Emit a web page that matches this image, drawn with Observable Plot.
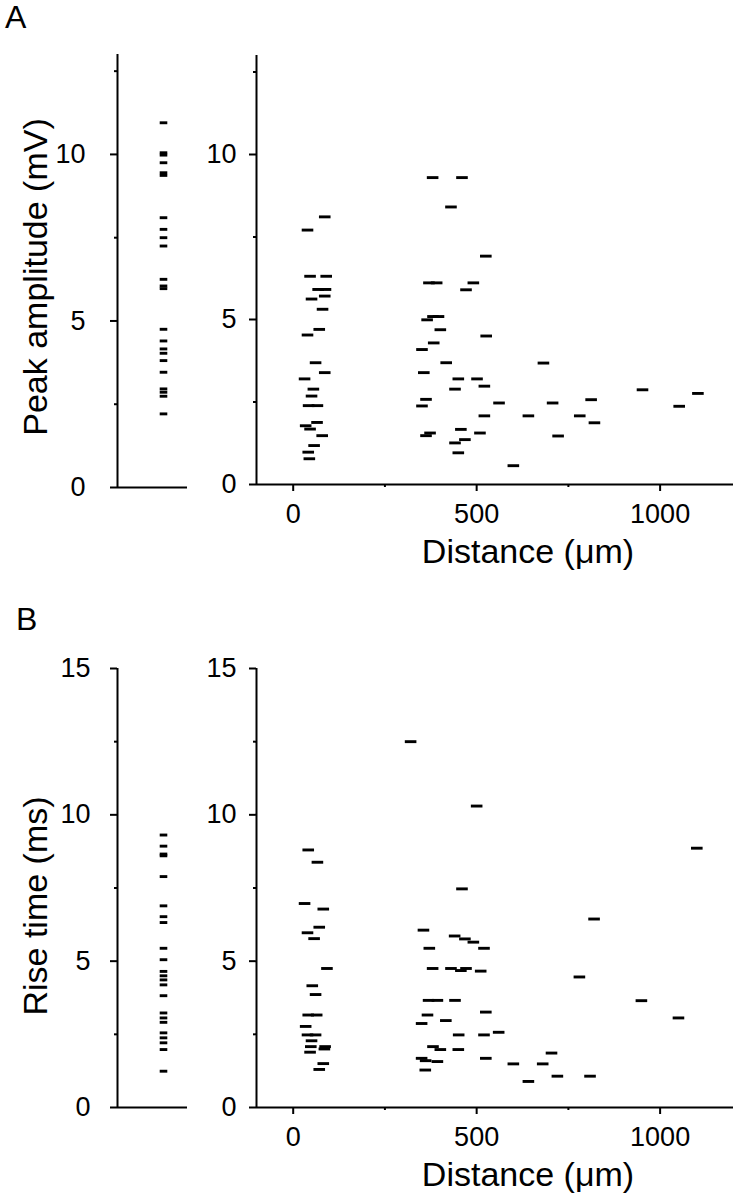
<!DOCTYPE html>
<html><head><meta charset="utf-8">
<script src="https://cdn.jsdelivr.net/npm/d3@7"></script>
<script src="https://cdn.jsdelivr.net/npm/@observablehq/plot@0.6"></script>
<style>
body{margin:0;background:#fff;}
#root{position:relative;width:737px;height:1199px;font-family:"Liberation Sans",Arial,sans-serif;color:#000;}
.plab{position:absolute;font-size:32px;line-height:1;}
.slot{position:absolute;}
.slot svg{display:block;overflow:visible;}
</style></head><body><div id="root"></div>
<script>
// ---- Data ----
const panelLabels = ["A", "B"];
const yLabels = ["Peak amplitude (mV)", "Rise time (ms)"];
const xLabel = "Distance (\u03bcm)";

// Panel A, left strip (all amplitudes, mV)
const ampStrip = [10.95, 10.05, 9.98, 9.75, 9.45, 9.37, 8.1, 7.75, 7.5, 7.25, 6.25, 6.05, 5.97,
  4.75, 4.4, 4.16, 4.03, 3.81, 3.46, 2.96, 2.86, 2.74, 2.21];
// Panel A, scatter: distance (um) and amplitude (mV)
const ampDist = [380, 460, 430, 86, 39, 525, 46, 90, 370, 391, 491, 471, 68, 88, 86, 50, 80,
  381, 396, 365, 39, 401, 71, 526, 383, 351, 61, 417, 86, 356, 31, 450, 501, 55, 441, 521, 50, 362,
  42, 66, 351, 561, 521, 509, 641, 682, 707, 722, 600, 781, 812, 821, 952, 1052, 1103,
  34, 65, 46, 79, 57, 41, 44, 373, 362, 457, 468, 441, 450];
const ampVal = [9.30, 9.30, 8.41, 8.11, 7.71, 6.92, 6.31, 6.31, 6.11, 6.11, 6.11, 5.90, 5.91, 5.91, 5.71, 5.62, 5.31,
  5.09, 5.09, 4.99, 4.53, 4.69, 4.70, 4.50, 4.29, 4.09, 3.69, 3.69, 3.39, 3.39, 3.20, 3.20, 3.20, 2.89, 2.89, 2.98, 2.68, 2.58,
  2.39, 2.39, 2.38, 2.47, 2.08, 1.56, 2.08, 3.68, 2.47, 1.47, 0.57, 2.08, 2.57, 1.87, 2.87, 2.37, 2.76,
  1.78, 1.88, 1.68, 1.48, 1.18, 0.98, 0.78, 1.56, 1.48, 1.67, 1.36, 1.26, 0.96];

// Panel B, left strip (all rise times, ms)
const riseStrip = [9.31, 8.93, 8.66, 8.6, 7.89, 6.89, 6.52, 6.32, 5.44, 5.05, 4.65, 4.5, 4.36, 4.19,
  3.82, 3.23, 3.06, 2.91, 2.55, 2.38, 2.21, 1.98, 1.24];
// Panel B, scatter: distance (um) and rise time (ms)
const riseDist = [320, 500, 41, 66, 460, 31, 82, 71, 39, 57, 355, 440, 468, 491, 371, 520, 92, 380, 430, 471, 457, 511,
  52, 61, 369, 393, 441, 525, 41, 64, 366, 350, 416, 34, 39, 61, 451, 520, 560, 50, 48, 87, 85, 46, 381, 401, 450,
  82, 71, 350, 361, 393, 360, 525, 1100, 820, 780, 949, 1050, 600, 680, 704, 641, 720, 809];
const riseVal = [12.5, 10.30, 8.80, 8.38, 7.47, 6.97, 6.78, 6.16, 5.97, 5.77, 6.06, 5.86, 5.76, 5.65, 5.44, 5.44, 4.75, 4.75, 4.75, 4.75, 4.68, 4.66,
  4.16, 3.86, 3.66, 3.66, 3.66, 3.26, 3.16, 3.16, 3.16, 2.87, 2.97, 2.77, 2.48, 2.48, 2.48, 2.48, 2.57, 2.28, 2.08, 2.08, 2.0, 1.89, 2.08, 1.98, 1.98,
  1.50, 1.30, 1.68, 1.60, 1.57, 1.28, 1.68, 8.86, 6.44, 4.46, 3.65, 3.06, 1.49, 1.49, 1.86, 0.89, 1.07, 1.07];

const yDomainA = [0, 13], yDomainB = [0, 15];
const yTicksA = [0, 5, 10], yTicksB = [0, 5, 10, 15];
const yMinor = [2.5, 7.5, 12.5];
const xDomain = [-100, 1200];
const xTicks = [0, 500, 1000], xMinor = [250, 750];

// ---- Drawing ----
const FONT = "Liberation Sans, Arial, sans-serif";
const dash = {draw(ctx, size) { const w = Math.sqrt(size / Math.PI); ctx.moveTo(-w, 0); ctx.lineTo(w, 0); }};
const root = document.getElementById("root");
const fmt = d3.format("d");

function place(node, left, top) {
  const d = document.createElement("div");
  d.className = "slot"; d.style.left = left + "px"; d.style.top = top + "px";
  d.appendChild(node); root.appendChild(d);
}

function strip(values, yDomain, yTicks, label, o) {
  return Plot.plot({
    width: 200, height: o.height,
    marginLeft: 117, marginRight: 13, marginTop: o.top, marginBottom: o.height - o.bottom,
    style: {fontFamily: FONT, background: "transparent"},
    x: {domain: [0, 1], axis: null},
    y: {domain: yDomain},
    marks: [
      Plot.ruleX([0], {strokeWidth: 2}),
      Plot.ruleY([yDomain[0]], {strokeWidth: 2}),
      Plot.axisY({ticks: yTicks, tickSize: 7, tickPadding: o.pad, fontSize: 27, strokeWidth: 2, label: null, tickFormat: fmt}),
      Plot.axisY({ticks: yMinor.filter(t => t <= yDomain[1]), tickSize: 3, tickFormat: () => "", strokeWidth: 2, label: null}),
      Plot.dot(values, {y: d => d, dx: 11, symbol: dash, r: 3.8, fill: "none", stroke: "black", strokeWidth: 2.9}),
      Plot.text([label], {frameAnchor: "left", textAnchor: "middle", lineAnchor: "middle", dx: -81, dy: o.labelDy, rotate: -90, fontSize: 34, fill: "black"})
    ]
  });
}

function scatter(dist, vals, yDomain, yTicks, o) {
  const data = dist.map((d, i) => ({dist: d, val: vals[i]}));
  return Plot.plot({
    width: 537, height: o.height,
    marginLeft: 56, marginRight: 4, marginTop: o.top, marginBottom: o.height - o.bottom,
    style: {fontFamily: FONT, background: "transparent"},
    x: {domain: xDomain},
    y: {domain: yDomain},
    marks: [
      Plot.ruleX([xDomain[0]], {strokeWidth: 2}),
      Plot.ruleY([yDomain[0]], {strokeWidth: 2}),
      Plot.axisY({ticks: yTicks, tickSize: 7, tickPadding: 13, fontSize: 27, strokeWidth: 2, label: null, tickFormat: fmt}),
      Plot.axisY({ticks: yMinor.filter(t => t <= yDomain[1]), tickSize: 3, tickFormat: () => "", strokeWidth: 2, label: null}),
      Plot.axisX({ticks: xTicks, tickSize: 7, tickPadding: 12, fontSize: 27, strokeWidth: 2, label: null, tickFormat: fmt}),
      Plot.axisX({ticks: xMinor, tickSize: 3, tickFormat: () => "", strokeWidth: 2, label: null}),
      Plot.dot(data, {x: "dist", y: "val", symbol: dash, r: 5.8, fill: "none", stroke: "black", strokeWidth: 2.9}),
      Plot.text([xLabel], {frameAnchor: "bottom", dx: 33, dy: 54, lineAnchor: "top", fontSize: 34, fill: "black"})
    ]
  });
}

// Panel letters
panelLabels.forEach((t, i) => {
  const d = document.createElement("div");
  d.className = "plab"; d.textContent = t;
  d.style.left = (i === 0 ? 5 : 16) + "px";
  d.style.top = (i === 0 ? 1 : 603) + "px";
  root.appendChild(d);
});

// Panel A
place(strip(ampStrip, yDomainA, yTicksA, yLabels[0], {height: 600, top: 54, bottom: 487, pad: 25, labelDy: 6}), 0, 0);
place(scatter(ampDist, ampVal, yDomainA, yTicksA, {height: 600, top: 55, bottom: 484}), 200, 0);
// Panel B
place(strip(riseStrip, yDomainB, yTicksB, yLabels[1], {height: 599, top: 68, bottom: 507, pad: 20, labelDy: 18}), 0, 600);
place(scatter(riseDist, riseVal, yDomainB, yTicksB, {height: 599, top: 68, bottom: 507}), 200, 600);
</script>
</body></html>
